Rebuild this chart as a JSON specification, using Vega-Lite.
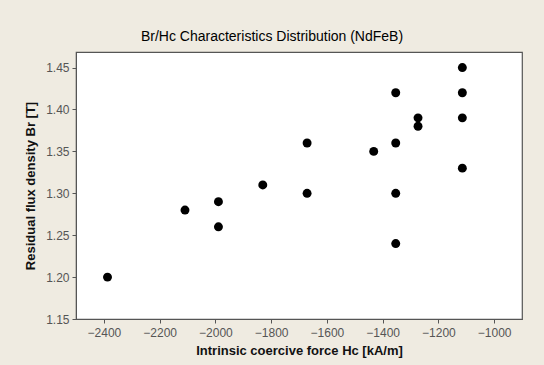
{
  "$schema": "https://vega.github.io/schema/vega-lite/v6.json",
  "autosize": {"type": "none"},
  "width": 446,
  "height": 267,
  "padding": {"left": 76, "top": 52, "right": 22, "bottom": 46},
  "background": "#EFEBE1",
  "title": {
    "text": "Br/Hc Characteristics Distribution (NdFeB)",
    "font": "Liberation Sans",
    "fontSize": 14,
    "fontWeight": "normal",
    "color": "#000000",
    "anchor": "middle",
    "dx": -27,
    "offset": 8
  },
  "config": {
    "view": {"stroke": "#555555", "strokeWidth": 1.2, "fill": "#FFFFFF"},
    "axis": {
      "grid": false,
      "domainColor": "#555555",
      "tickColor": "#555555",
      "tickSize": 4,
      "labelFont": "Liberation Sans",
      "labelFontSize": 12,
      "labelColor": "#555555",
      "titleFont": "Liberation Sans",
      "titleFontSize": 13,
      "titleFontWeight": "bold",
      "titleColor": "#111111"
    }
  },
  "data": {
    "values": [
      {"hc": -2387, "br": 1.20},
      {"hc": -2109, "br": 1.28},
      {"hc": -1989, "br": 1.29},
      {"hc": -1989, "br": 1.26},
      {"hc": -1830, "br": 1.31},
      {"hc": -1671, "br": 1.36},
      {"hc": -1671, "br": 1.30},
      {"hc": -1432, "br": 1.35},
      {"hc": -1353, "br": 1.42},
      {"hc": -1353, "br": 1.36},
      {"hc": -1353, "br": 1.30},
      {"hc": -1353, "br": 1.24},
      {"hc": -1273, "br": 1.39},
      {"hc": -1273, "br": 1.38},
      {"hc": -1114, "br": 1.45},
      {"hc": -1114, "br": 1.42},
      {"hc": -1114, "br": 1.39},
      {"hc": -1114, "br": 1.33}
    ]
  },
  "mark": {"type": "circle", "size": 80, "color": "#000000", "opacity": 1},
  "encoding": {
    "x": {
      "field": "hc",
      "type": "quantitative",
      "scale": {"domain": [-2500, -900], "nice": false, "zero": false},
      "axis": {"values": [-2400, -2200, -2000, -1800, -1600, -1400, -1200, -1000], "format": "d", "title": "Intrinsic coercive force Hc [kA/m]", "titlePadding": 6, "labelPadding": 4}
    },
    "y": {
      "field": "br",
      "type": "quantitative",
      "scale": {"domain": [1.15, 1.4686], "nice": false, "zero": false},
      "axis": {"values": [1.15, 1.2, 1.25, 1.3, 1.35, 1.4, 1.45], "format": ".2f", "title": "Residual flux density Br [T]", "titlePadding": 8, "labelPadding": 3}
    }
  }
}
